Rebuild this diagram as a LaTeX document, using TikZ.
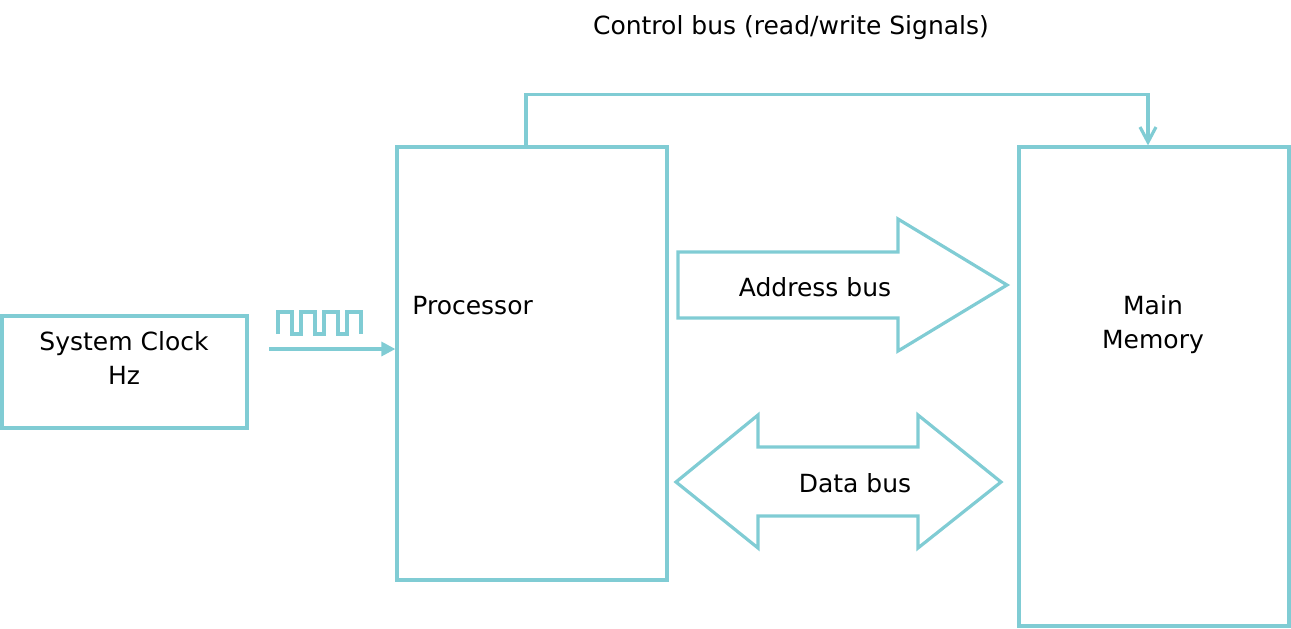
\documentclass[tikz,border=0pt]{standalone}
\usepackage{fontspec}
\setmainfont{DejaVu Sans}
\usepackage{tikz}
\usetikzlibrary{arrows.meta}
\definecolor{busblue}{RGB}{128,204,212}
\tikzset{
  unit/.style = {draw=busblue, line width=1.6pt, rectangle, inner sep=0pt},
  lbl/.style = {inner sep=0pt, align=center, font=\fontsize{12.5}{17}\selectfont},
  bus/.style = {draw=busblue, line width=1.6pt, line join=miter},
  wire/.style = {draw=busblue, line width=1.6pt},
}

\begin{document}
\begin{tikzpicture}[x=0.5pt,y=-0.5pt]
    \useasboundingbox (0,0) rectangle (1291,628);

    % boxes
    \node[unit, minimum width=122.5pt, minimum height=56pt] (clock) at (124.5,372) {};
    \node[unit, minimum width=135pt, minimum height=216.5pt] (cpu) at (532,363.5) {};
    \node[unit, minimum width=135pt, minimum height=239.5pt] (mem) at (1154,386.5) {};
    \node[lbl] (clocklbl) at (124,358) {System Clock\\Hz};
    \node[lbl, anchor=west] (cpulbl) at (412,306) {Processor};
    \node[lbl] (memlbl) at (1153,325) {Main\\Memory};

    % clock signal
    \coordinate (clk) at (269,349);
    \path[wire, -{Triangle[length=7pt,width=7pt]}] (clk) -- (clk -| cpu.west);
    \path[wire, line join=miter] (278,334) -- ++(0,-22) -- ++(14,0) -- ++(0,22) -- ++(9,0)
        -- ++(0,-22) -- ++(14,0) -- ++(0,22) -- ++(9,0)
        -- ++(0,-22) -- ++(14,0) -- ++(0,22) -- ++(9,0)
        -- ++(0,-22) -- ++(14,0) -- ++(0,22);

    % control bus
    \path[wire, -{Straight Barb[length=7.5pt,width=8pt]}] ([xshift=-3pt]cpu.north) -- ++(0,-51) -| ([xshift=-3pt]mem.north);
    \node[lbl] (ctrllbl) at (791,28) {Control bus (read/write Signals)};

    % address bus
    \path[bus] (678,252) -- (898,252) -- (898,219) -- (1007,285) -- (898,351) -- (898,318) -- (678,318) -- cycle;
    \node[lbl] (addrlbl) at (815,287) {Address bus};

    % data bus
    \path[bus] (676,482) -- (758,415) -- (758,447) -- (918,447) -- (918,415) -- (1001,482)
        -- (918,548) -- (918,516) -- (758,516) -- (758,548) -- cycle;
    \node[lbl] (datalbl) at (855,483) {Data bus};
\end{tikzpicture}
\end{document}
